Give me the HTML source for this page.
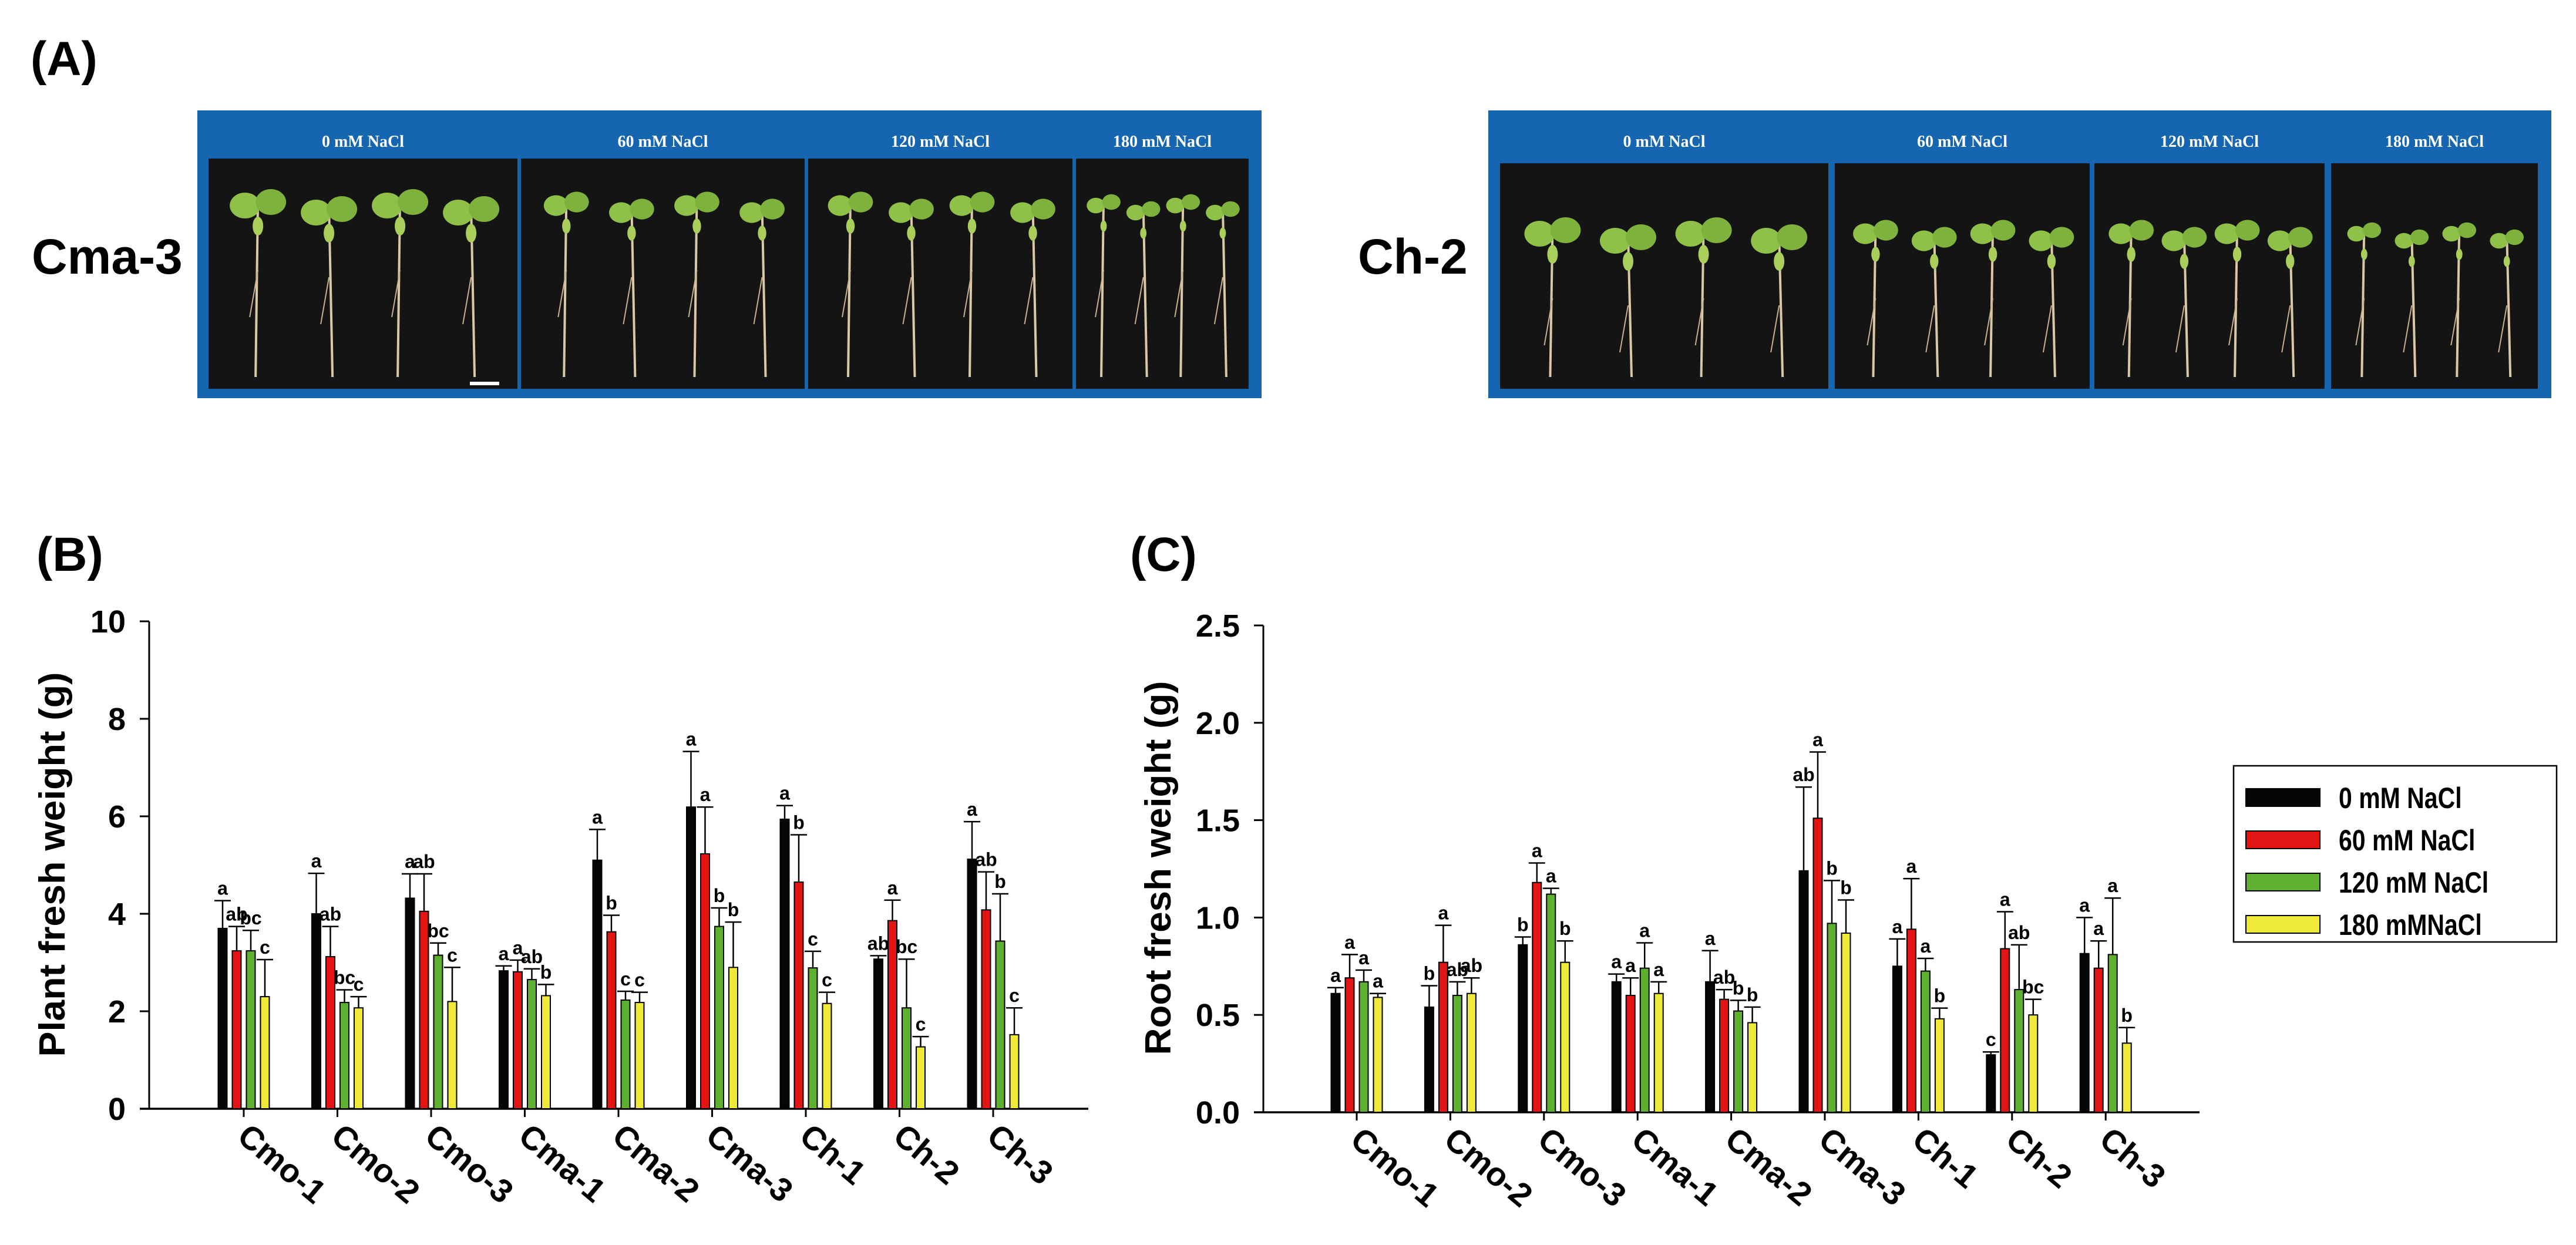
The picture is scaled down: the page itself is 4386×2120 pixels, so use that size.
<!DOCTYPE html>
<html><head><meta charset="utf-8"><style>
html,body{margin:0;padding:0;background:#fff;}
svg{display:block;font-family:"Liberation Sans",Arial,sans-serif;}
</style></head><body>
<svg id="fig" width="4386" height="2120" viewBox="0 0 4386 2120" xmlns="http://www.w3.org/2000/svg">
<rect width="4386" height="2120" fill="#fff"/>
<text x="52" y="128" font-size="82" font-weight="bold">(A)</text>
<text x="62" y="972" font-size="82" font-weight="bold">(B)</text>
<text x="1924" y="972" font-size="82" font-weight="bold">(C)</text>
<text x="54" y="466" font-size="84" font-weight="bold">Cma-3</text>
<text x="2312" y="466" font-size="84" font-weight="bold">Ch-2</text>
<g id="photos"></g>
<g id="chartB"></g>
<g id="chartC"></g>
<g id="legend"></g>
</svg>
<script>
// ---------- Data ----------
const categories = ["Cmo-1","Cmo-2","Cmo-3","Cma-1","Cma-2","Cma-3","Ch-1","Ch-2","Ch-3"];
const seriesNames = ["0 mM NaCl","60 mM NaCl","120 mM NaCl","180 mMNaCl"];
// Plant fresh weight (B)
const plant0   = [3.70,4.00,4.32,2.83,5.10,6.19,5.94,3.07,5.12];
const plant60  = [3.24,3.12,4.05,2.81,3.63,5.23,4.65,3.86,4.08];
const plant120 = [3.24,2.18,3.15,2.65,2.23,3.74,2.89,2.07,3.44];
const plant180 = [2.30,2.07,2.20,2.32,2.18,2.90,2.16,1.27,1.52];
const plantErr0   = [4.27,4.83,4.82,2.93,5.73,7.33,6.22,3.14,5.89];
const plantErr60  = [3.74,3.74,4.82,3.05,3.97,6.19,5.62,4.28,4.86];
const plantErr120 = [3.66,2.44,3.40,2.87,2.41,4.12,3.23,3.07,4.41];
const plantErr180 = [3.06,2.30,2.90,2.55,2.39,3.83,2.39,1.48,2.07];
const plantLetters0   = ["a","a","a","a","a","a","a","ab","a"];
const plantLetters60  = ["ab","ab","ab","a","b","a","b","a","ab"];
const plantLetters120 = ["bc","bc","bc","ab","c","b","c","bc","b"];
const plantLetters180 = ["c","c","c","b","c","b","c","c","c"];
const plantTicks = [0,2,4,6,8,10];
const plantTickLabels = ["0","2","4","6","8","10"];
// Root fresh weight (C)
const root0   = [0.61,0.54,0.86,0.67,0.67,1.24,0.75,0.295,0.815];
const root60  = [0.69,0.77,1.18,0.60,0.58,1.51,0.94,0.84,0.74];
const root120 = [0.67,0.60,1.12,0.74,0.52,0.97,0.725,0.63,0.81];
const root180 = [0.59,0.61,0.77,0.61,0.46,0.92,0.48,0.50,0.355];
const rootErr0   = [0.64,0.65,0.90,0.71,0.83,1.67,0.89,0.31,1.00];
const rootErr60  = [0.81,0.96,1.28,0.69,0.63,1.85,1.20,1.03,0.88];
const rootErr120 = [0.73,0.67,1.15,0.87,0.575,1.19,0.79,0.86,1.10];
const rootErr180 = [0.61,0.69,0.88,0.67,0.54,1.09,0.535,0.58,0.435];
const rootLetters0   = ["a","b","b","a","a","ab","a","c","a"];
const rootLetters60  = ["a","a","a","a","ab","a","a","a","a"];
const rootLetters120 = ["a","ab","a","a","b","b","a","ab","a"];
const rootLetters180 = ["a","ab","b","a","b","b","b","bc","b"];
const rootTicks = [0,0.5,1.0,1.5,2.0,2.5];
const rootTickLabels = ["0.0","0.5","1.0","1.5","2.0","2.5"];

const colors = ["#050505","#e31414","#5db030","#efe93a"];
const NS = "http://www.w3.org/2000/svg";
function mk(tag, attrs, parent){
  const e = document.createElementNS(NS, tag);
  for (const k in attrs) e.setAttribute(k, attrs[k]);
  parent.appendChild(e);
  return e;
}

function drawChart(gid, cfg){
  const g = document.getElementById(gid);
  
  
  const yS = v => cfg.yBase - (v / cfg.yMax) * (cfg.yBase - cfg.yTop);
  const xS = i => cfg.cat0 + i * cfg.step;
  const ya = mk('line', {x1:cfg.axisX, y1:cfg.yTop, x2:cfg.axisX, y2:cfg.yBase, stroke:'#000','stroke-width':3}, g);
  
  
  const xa = mk('line', {x1:cfg.axisX-16, y1:cfg.yBase, x2:cfg.xEnd, y2:cfg.yBase, stroke:'#000','stroke-width':3.5}, g);
  
  
  cfg.ticks.forEach((t, k) => {
    const y = yS(t);
    const tl = mk('line', {x1:cfg.axisX-16, y1:y, x2:cfg.axisX, y2:y, stroke:'#000','stroke-width':3}, g);
    
    
    const tx = mk('text', {x:cfg.axisX-40, y:y+19, 'font-size':54, 'font-weight':'bold', 'text-anchor':'end'}, g);
    tx.textContent = cfg.tickLabels[k];
    
    
  });
  const tt = mk('text', {x:0, y:0, 'font-size':62, 'font-weight':'bold', 'text-anchor':'middle',
    transform:`translate(${cfg.titleX},${cfg.titleY}) rotate(-90)`, textLength:cfg.titleLen, lengthAdjust:'spacingAndGlyphs'}, g);
  tt.textContent = cfg.title;
  
  
  const offs = [-36,-12,12,36], bw = 15;
  categories.forEach((c, i) => {
    const cx = xS(i);
    const tk = mk('line', {x1:cx, y1:cfg.yBase, x2:cx, y2:cfg.yBase+14, stroke:'#000','stroke-width':3}, g);
    
    
    const lb = mk('text', {x:0, y:0, 'font-size':56, 'font-weight':'bold',
      transform:`translate(${cx-14},${cfg.yBase+52}) rotate(40)`}, g);
    lb.textContent = c;
    
    
    for (let s = 0; s < 4; s++){
      const v = cfg.values[s][i], e = cfg.errs[s][i];
      const bx = cx + offs[s];
      const yv = yS(v), ye = yS(e);
      const eb = mk('line', {x1:bx, y1:yv, x2:bx, y2:ye, stroke:'#000','stroke-width':2.5}, g);
      
      
      const cap = mk('line', {x1:bx-14, y1:ye, x2:bx+14, y2:ye, stroke:'#000','stroke-width':2.5}, g);
      
      
      const r = mk('rect', {x:bx-bw/2, y:yv, width:bw, height:cfg.yBase-yv, fill:colors[s], stroke:'#000','stroke-width':2}, g);
      
      
      const lt = mk('text', {x:bx, y:ye-10, 'font-size':32, 'font-weight':'bold', 'text-anchor':'middle'}, g);
      lt.textContent = cfg.letters[s][i];
      
      
    }
  });
}

drawChart('chartB', {name:'plant-fresh-weight-chart', axisX:254, xEnd:1853, yBase:1888, yTop:1058, yMax:10,
  cat0:415, step:159.5, ticks:plantTicks, tickLabels:plantTickLabels,
  values:[plant0,plant60,plant120,plant180], errs:[plantErr0,plantErr60,plantErr120,plantErr180],
  letters:[plantLetters0,plantLetters60,plantLetters120,plantLetters180],
  title:'Plant fresh weight (g)', titleX:110, titleY:1472, titleLen:655});
drawChart('chartC', {name:'root-fresh-weight-chart', axisX:2151, xEnd:3745, yBase:1894, yTop:1065, yMax:2.5,
  cat0:2310, step:159.4, ticks:rootTicks, tickLabels:rootTickLabels,
  values:[root0,root60,root120,root180], errs:[rootErr0,rootErr60,rootErr120,rootErr180],
  letters:[rootLetters0,rootLetters60,rootLetters120,rootLetters180],
  title:'Root fresh weight (g)', titleX:1993, titleY:1478, titleLen:637});

// ---------- Legend ----------
(function(){
  const g = document.getElementById('legend');
  mk('rect', {x:3803, y:1304, width:550, height:300, fill:'#fff', stroke:'#000','stroke-width':2.5}, g);
  seriesNames.forEach((n, i) => {
    const y = 1343 + i * 72;
    const sw = mk('rect', {x:3824, y:y, width:126, height:30, fill:colors[i], stroke:'#000','stroke-width':2}, g);
    
    
    const t = mk('text', {x:0, y:0, 'font-size':50, 'font-weight':'bold', transform:`translate(3982,${y+33}) scale(0.82,1)`}, g);
    t.textContent = n;
    
    
  });
})();

// ---------- Photo panels ----------
const panels = [
  {x:336, w:1812, photos:[[355,881],[887,1370],[1376,1826],[1832,2126]], top:270},
  {x:2534, w:1810, photos:[[2554,3113],[3124,3558],[3566,3958],[3969,4321]], top:278}
];
const headers = ["0 mM NaCl","60 mM NaCl","120 mM NaCl","180 mM NaCl"];
(function(){
  const g = document.getElementById('photos');
  panels.forEach((p, pi) => {
    const pg = mk('g', {}, g);
    
    
    mk('rect', {x:p.x, y:188, width:p.w, height:490, fill:'#1565b0'}, pg);
    p.photos.forEach((ph, k) => {
      const [x1, x2] = ph, w = x2 - x1, bottom = 662;
      const img = mk('rect', {x:x1, y:p.top, width:w, height:bottom-p.top, fill:'#141414'}, pg);
      
      
      const h = mk('text', {x:(x1+x2)/2, y:250, 'font-size':28, 'font-weight':'bold', fill:'#fff', 'text-anchor':'middle',
        'font-family':'"Liberation Serif",serif'}, pg);
      h.textContent = headers[k];
      
      
      const ls = k === 0 ? 1 : (k === 3 ? 0.6 : 0.8);
      for (let j = 0; j < 4; j++){
        const sx = x1 + w * (0.16 + j * 0.23);
        const leafY = p.top + (pi === 0 ? 70 : 110) + (j % 2) * 12;
        mk('line', {x1:sx, y1:leafY, x2:sx + (j%2?6:-4), y2:bottom-20, stroke:'#d9c7a6','stroke-width':4}, pg);
        mk('line', {x1:sx, y1:leafY+120, x2:sx-14, y2:leafY+200, stroke:'#c9b38e','stroke-width':2}, pg);
        mk('ellipse', {cx:sx-22*ls, cy:leafY+10, rx:26*ls, ry:22*ls, fill:'#8fc047'}, pg);
        mk('ellipse', {cx:sx+22*ls, cy:leafY+4, rx:26*ls, ry:22*ls, fill:'#7fb23c'}, pg);
        mk('ellipse', {cx:sx, cy:leafY+45, rx:9*ls, ry:16*ls, fill:'#a9cf5a'}, pg);
      }
    });
  });
  mk('rect', {x:800, y:650, width:50, height:6, fill:'#fff'}, g);
})();
</script>
</body></html>
